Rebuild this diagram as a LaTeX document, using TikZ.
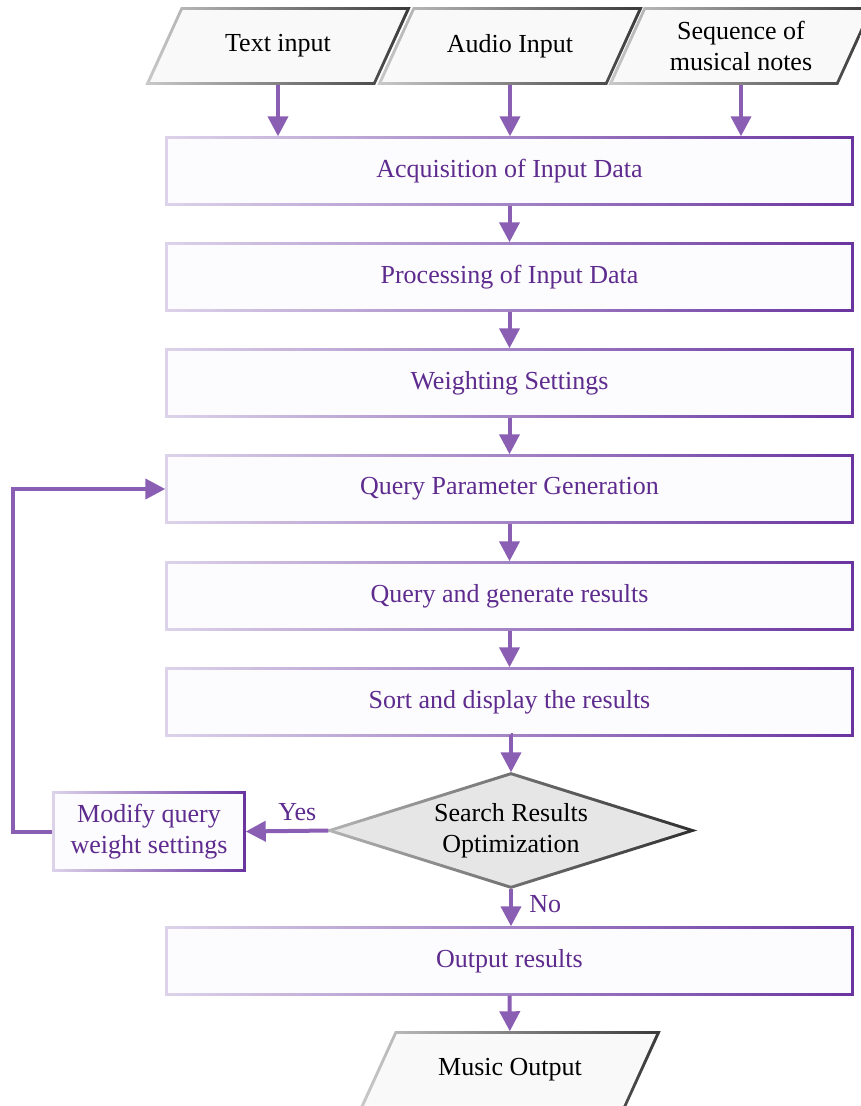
\documentclass[tikz,border=0pt]{standalone}
\usepackage{fontspec}
\setmainfont{Liberation Serif}
\usetikzlibrary{arrows.meta,shapes.geometric,backgrounds,calc}
\definecolor{bL}{HTML}{DCD3EA}
\definecolor{bR}{HTML}{6A34A0}
\definecolor{bFill}{HTML}{FCFBFD}
\definecolor{tPur}{HTML}{5E2B8E}
\definecolor{aPur}{HTML}{8A5EB2}
\definecolor{gL}{HTML}{C9C9C9}
\definecolor{gR}{HTML}{3A3A3A}
\definecolor{pFill}{HTML}{F9F9F9}
\definecolor{dFill}{HTML}{E6E6E6}
\definecolor{dL}{HTML}{B4B4B4}
\definecolor{dR}{HTML}{2E2E2E}
\begin{document}
\begin{tikzpicture}[x=0.75pt,y=-0.75pt,
  every node/.style={font=\fontsize{19.5pt}{23.6pt}\selectfont},
  procbox/.style={rectangle, inner sep=0pt, minimum width=513.75pt, minimum height=49.5pt, text=tPur},
  iobox/.style={rectangle, inner sep=0pt, minimum width=169.5pt, minimum height=55.5pt, align=center, text=black},
  modbox/.style={rectangle, inner sep=0pt, minimum width=142.5pt, minimum height=57.75pt, align=center, text=tPur},
  decbox/.style={diamond, inner sep=0pt, aspect=3.2, minimum width=271.5pt, minimum height=84.75pt, align=center, text=black},
  lbl/.style={text=tPur},
  arr/.style={draw=aPur, line width=3pt, -{Triangle[length=15pt,width=15pt]}, shorten >=1.1pt, shorten <=1.1pt}
]
\useasboundingbox (0,0) rectangle (860,1106);

% input / output parallelograms (text holders)
\node[iobox] (tin) at (278,46) {Text input};
\node[iobox] (ain) at (510,46) {Audio Input};
\node[iobox] (sin) at (741,46) {Sequence of\\musical notes};
\node[iobox, minimum width=196.5pt] (mout) at (510,1070) {Music Output};

% process boxes
\node[procbox] (acq) at (509.5,171) {Acquisition of Input Data};
\node[procbox] (proc) at (509.5,277) {Processing of Input Data};
\node[procbox] (wgt) at (509.5,383) {Weighting Settings};
\node[procbox] (qpg) at (509.5,489) {Query Parameter Generation};
\node[procbox] (qgr) at (509.5,596) {Query and generate results};
\node[procbox] (srt) at (509.5,702) {Sort and display the results};
\node[procbox] (out) at (509.5,961) {Output results};
\node[modbox] (mod) at (149,831.5) {Modify query\\weight settings};
\node[decbox] (opt) at (511,830.5) {Search Results\\Optimization};

% borders and fills with gradients
\begin{scope}[on background layer]
  \foreach \n in {acq,proc,wgt,qpg,qgr,srt,out,mod}{
    \shade[left color=bL, right color=bR]
      ($(\n.north west)+(-1.5,-1.5)$) rectangle ($(\n.south east)+(1.5,1.5)$);
    \fill[bFill]
      ($(\n.north west)+(1.5,1.5)$) rectangle ($(\n.south east)+(-1.5,-1.5)$);
  }
  \foreach \n/\s in {tin/17,ain/17,sin/17,mout/17}{
    \shade[left color=gL, right color=gR]
      ($(\n.north west)+(\s,0)+(-0.9,-1.5)$) -- ($(\n.north east)+(\s,0)+(2.4,-1.5)$)
      -- ($(\n.south east)+(-\s,0)+(0.9,1.5)$) -- ($(\n.south west)+(-\s,0)+(-2.4,1.5)$) -- cycle;
    \fill[pFill]
      ($(\n.north west)+(\s,0)+(0.9,1.5)$) -- ($(\n.north east)+(\s,0)+(-2.4,1.5)$)
      -- ($(\n.south east)+(-\s,0)+(-0.9,-1.5)$) -- ($(\n.south west)+(-\s,0)+(2.4,-1.5)$) -- cycle;
  }
  \shade[left color=dL, right color=dR]
    ($(opt.north)+(0,-1.6)$) -- ($(opt.east)+(5,0)$) -- ($(opt.south)+(0,1.6)$) -- ($(opt.west)+(-5,0)$) -- cycle;
  \fill[dFill]
    ($(opt.north)+(0,1.6)$) -- ($(opt.east)+(-5,0)$) -- ($(opt.south)+(0,-1.6)$) -- ($(opt.west)+(5,0)$) -- cycle;
\end{scope}

% connectors
\draw[arr] (tin.south) -- (tin.south |- acq.north);
\draw[arr] (ain.south) -- (ain.south |- acq.north);
\draw[arr] (sin.south) -- (sin.south |- acq.north);
\draw[arr] (acq) -- (proc);
\draw[arr] (proc) -- (wgt);
\draw[arr] (wgt) -- (qpg);
\draw[arr] (qpg) -- (qgr);
\draw[arr] (qgr) -- (srt);
\draw[arr] (srt.south) -- (srt.south -| opt.north) -- (opt.north);
\draw[arr] (opt.south) -- node[lbl, right=9pt, pos=0.42] (no) {No} (opt.south |- out.north);
\draw[arr] (opt.west) -- node[lbl, above=3pt, pos=0.38] (yes) {Yes} (mod.east);
\draw[arr] (mod.west) -- ++(-41,0) |- (qpg.west);
\draw[arr] (out) -- (mout);
\end{tikzpicture}
\end{document}
